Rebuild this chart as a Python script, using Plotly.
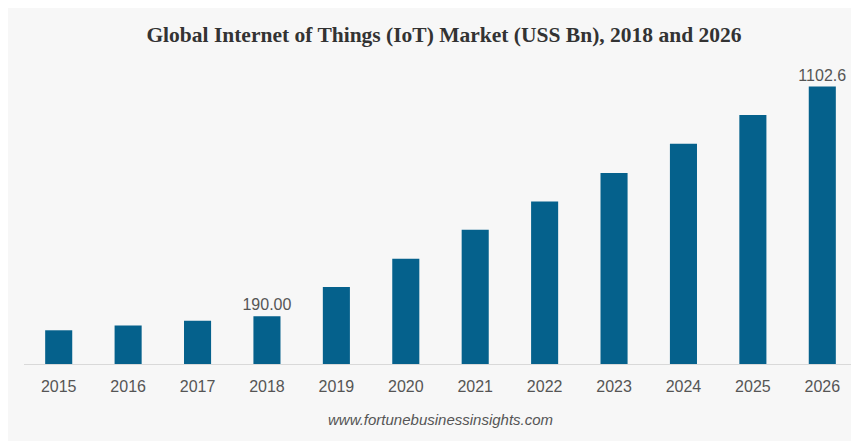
import plotly.graph_objects as go

years = ["2015", "2016", "2017", "2018", "2019", "2020",
         "2021", "2022", "2023", "2024", "2025", "2026"]
values = [134, 153, 172, 190.0, 306, 418, 533, 646, 759, 875, 989, 1102.6]
labels = ["", "", "", "190.00", "", "", "", "", "", "", "", "1102.6"]

# the page has an 8px body margin, so the figure occupies (8,8)-(859,441)
W, H = 851, 433
ml, mr, mt, mb = 16, 2, 54, 77
pw = W - ml - mr
ph = H - mt - mb

fig = go.Figure()
fig.add_trace(go.Bar(
    x=years, y=values,
    text=labels, textposition="outside", cliponaxis=False,
    constraintext="none",
    textfont=dict(family="Liberation Sans, Arial", size=16, color="#555555"),
    marker=dict(color="#05618c", line=dict(width=0)),
    hoverinfo="skip",
))

fig.update_layout(
    width=W, height=H,
    margin=dict(l=ml, r=mr, t=mt, b=mb),
    paper_bgcolor="#f7f7f7",
    plot_bgcolor="#f7f7f7",
    bargap=0.61,
    showlegend=False,
    title=dict(
        text="<b>Global Internet of Things (IoT) Market (USS Bn), 2018 and 2026</b>",
        font=dict(family="Liberation Serif, Times New Roman", size=21.5, color="#333333"),
        x=(437 - 8) / W, xref="paper", xanchor="center",
        y=1 - 26 / H, yanchor="middle",
    ),
    xaxis=dict(
        showgrid=False, zeroline=False, showline=True,
        linecolor="#d9d9d9", linewidth=1,
        ticks="", ticklabelstandoff=8,
        tickfont=dict(family="Liberation Sans, Arial", size=16, color="#555555"),
    ),
    yaxis=dict(
        range=[0, 1200], showgrid=False, zeroline=False,
        showticklabels=False, showline=False, ticks="",
    ),
    annotations=[
        dict(text="<i>www.fortunebusinessinsights.com</i>",
             xref="paper", yref="paper",
             x=(440 - 8 - ml) / pw, y=-(419 - 8 - (mt + ph)) / ph,
             xanchor="center", yanchor="middle", showarrow=False,
             font=dict(family="Liberation Sans, Arial", size=15, color="#555555")),
    ],
)

fig.write_html("out.html")
